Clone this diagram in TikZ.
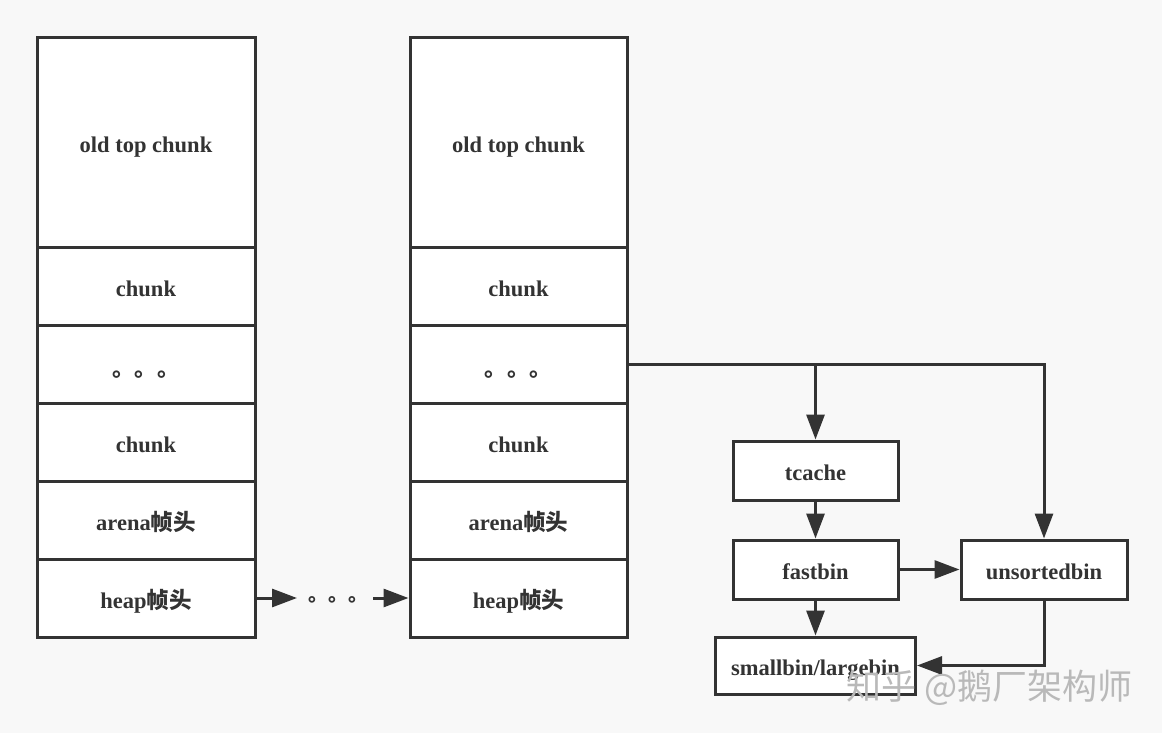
\documentclass[tikz,border=0pt]{standalone}
\usepackage{fontspec}
\setmainfont{Liberation Serif}
\newfontfamily\cjk{Noto Sans CJK SC}
\usetikzlibrary{arrows.meta}
\definecolor{ink}{HTML}{333333}
\definecolor{bg}{HTML}{F8F8F8}
\tikzset{
  cell/.style={draw=ink, fill=white, line width=3pt, inner sep=0pt, text height=24pt, text depth=4pt, font=\fontsize{22.5}{24}\selectfont\bfseries, text=ink},
  arr/.style={draw=ink, line width=3pt, -{Triangle[length=25pt,width=18pt]}},
  plain/.style={draw=ink, line width=3pt}
}
\newcommand{\mydots}{\raisebox{-2pt}{\cjk\bfseries 。。。}}
\begin{document}
\begin{tikzpicture}[x=1pt,y=-1pt]
\fill[bg] (0,0) rectangle (1162,733);
\useasboundingbox (0,0) rectangle (1162,733);
% column 1
\node[cell, minimum width=218pt, minimum height=209pt] (aTop) at (146,142.5) {old top chunk};
\node[cell, minimum width=218pt, minimum height=78pt] (aC1) at (146,286) {chunk};
\node[cell, minimum width=218pt, minimum height=78pt] (aDots) at (146,364) {\mydots};
\node[cell, minimum width=218pt, minimum height=78pt] (aC2) at (146,442) {chunk};
\node[cell, minimum width=218pt, minimum height=78pt] (aArena) at (146,520) {arena{\cjk\bfseries 帧头}};
\node[cell, minimum width=218pt, minimum height=78pt] (aHeap) at (146,598) {heap{\cjk\bfseries 帧头}};
% column 2
\node[cell, minimum width=217pt, minimum height=209pt] (bTop) at (518.5,142.5) {old top chunk};
\node[cell, minimum width=217pt, minimum height=78pt] (bC1) at (518.5,286) {chunk};
\node[cell, minimum width=217pt, minimum height=78pt] (bDots) at (518.5,364) {\mydots};
\node[cell, minimum width=217pt, minimum height=78pt] (bC2) at (518.5,442) {chunk};
\node[cell, minimum width=217pt, minimum height=78pt] (bArena) at (518.5,520) {arena{\cjk\bfseries 帧头}};
\node[cell, minimum width=217pt, minimum height=78pt] (bHeap) at (518.5,598) {heap{\cjk\bfseries 帧头}};
% middle dots
\coordinate (m1) at (297,598);
\coordinate (m2) at (373,598);
\node[text=ink, font=\fontsize{20}{22}\selectfont\cjk\bfseries, inner sep=0pt] (mid) at (338,600) {。。。};
\draw[arr] (aHeap.east) -- (m1);
\draw[arr] (m2) -- (bHeap.west);
% bins
\node[cell, minimum width=165pt, minimum height=59pt] (tc) at (815.5,470.5) {tcache};
\node[cell, minimum width=165pt, minimum height=59pt] (fb) at (815.5,569.5) {fastbin};
\node[cell, minimum width=166pt, minimum height=59pt] (ub) at (1044,569.5) {unsortedbin};
\node[cell, minimum width=200pt, minimum height=57pt] (sb) at (815.5,665.5) {smallbin/largebin};
% connectors
\draw[arr] (bDots.east) -| (ub.north);
\draw[arr] (bDots.east -| tc.north) -- (tc.north);
\draw[arr] (tc.south) -- (fb.north);
\draw[arr] (fb.east) -- (ub.west);
\draw[arr] (fb.south) -- (sb.north);
\draw[arr] (ub.south) |- (sb.east);
% watermark
\node[anchor=west, inner sep=0pt, text=gray!55, font=\fontsize{35}{37}\selectfont\cjk] (wm) at (846,688) {知乎 @鹅厂架构师};
\end{tikzpicture}
\end{document}
